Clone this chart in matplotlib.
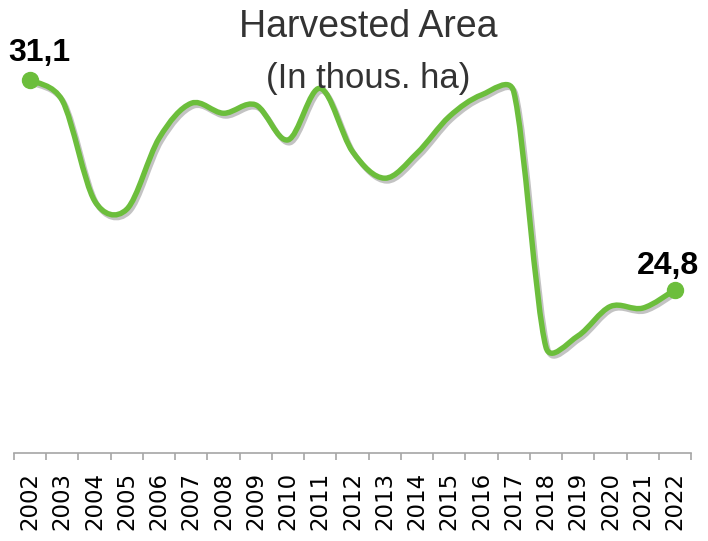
import numpy as np
import matplotlib
matplotlib.use("Agg")
import matplotlib.pyplot as plt
import matplotlib.patheffects as pe
from matplotlib.path import Path
from matplotlib.patches import PathPatch

plt.rcParams['font.family'] = ['Liberation Sans', 'DejaVu Sans']

# Harvested area, thousand ha
years = [str(y) for y in range(2002, 2023)]
area = [31.1, 30.48, 27.47, 27.22, 29.35, 30.4, 30.1, 30.35, 29.3, 30.85,
        28.95, 28.15, 28.9, 30.0, 30.65, 30.75, 23.08, 23.42, 24.3, 24.25, 24.8]
first_label = "31,1"
last_label = "24,8"

green = "#6cbe3c"

fig = plt.figure(figsize=(7.08, 5.41), dpi=100)
ax = fig.add_axes([14 / 708, 88 / 541, 677 / 708, 453 / 541])
x = np.arange(len(years))
ax.set_xlim(-0.5, len(years) - 0.5)
ax.set_ylim(19.9, 33.5)

# smooth line through the points, Excel style bezier (control arm capped at half a segment)
fig.canvas.draw()
pts = ax.transData.transform(np.column_stack([x, area]))
n = len(pts)


def arm(tangent, seg):
    v = tangent / 6
    L = np.linalg.norm(v)
    if L > seg / 2:
        v = v * (seg / 2) / L
    return v


verts = [pts[0]]
codes = [Path.MOVETO]
for i in range(n - 1):
    p0 = pts[max(i - 1, 0)]
    p1 = pts[i]
    p2 = pts[i + 1]
    p3 = pts[min(i + 2, n - 1)]
    d12 = np.linalg.norm(p2 - p1)
    c1 = p1 + arm(p2 - p0, d12)
    c2 = p2 - arm(p3 - p1, d12)
    verts += [c1, c2, p2]
    codes += [Path.CURVE4] * 3
curve = ax.transData.inverted().transform(np.array(verts))
patch = PathPatch(Path(curve, codes), fill=False, edgecolor=green, lw=3.9,
                  capstyle='round', joinstyle='round', clip_on=False,
                  path_effects=[pe.SimpleLineShadow(offset=(1.5, -2), shadow_color='#555555', alpha=0.35),
                                pe.Normal()])
ax.add_patch(patch)

ax.plot([x[0], x[-1]], [area[0], area[-1]], 'o', color=green, ms=11.5, clip_on=False, zorder=3)

ax.annotate(first_label, (x[0], area[0]), xytext=(9, 19), textcoords='offset pixels',
            ha='center', va='baseline', fontsize=23, fontweight='bold', color='black')
ax.annotate(last_label, (x[-1], area[-1]), xytext=(-7, 16), textcoords='offset pixels',
            ha='center', va='baseline', fontsize=23, fontweight='bold', color='black')

# axes styling
for s in ['top', 'left', 'right']:
    ax.spines[s].set_visible(False)
ax.spines['bottom'].set_color('#a6a6a6')
ax.spines['bottom'].set_linewidth(1.2)
ax.set_yticks([])
ax.set_xticks(x)
ax.set_xticklabels(years, rotation=90, fontsize=16.5, color='black', family='DejaVu Sans')
ax.set_xticks(np.arange(-0.5, len(years)), minor=True)
ax.tick_params(axis='x', which='major', length=0, pad=13.5)
ax.tick_params(axis='x', which='minor', length=5, width=1.2, color='#a6a6a6')

fig.text(368 / 708, 1 - 37 / 541, "Harvested Area", ha='center', va='baseline',
         fontsize=27, color='#333333')
fig.text(368 / 708, 1 - 88 / 541, "(In thous. ha)", ha='center', va='baseline',
         fontsize=25, color='#333333')

fig.savefig('out.png', dpi=100)
